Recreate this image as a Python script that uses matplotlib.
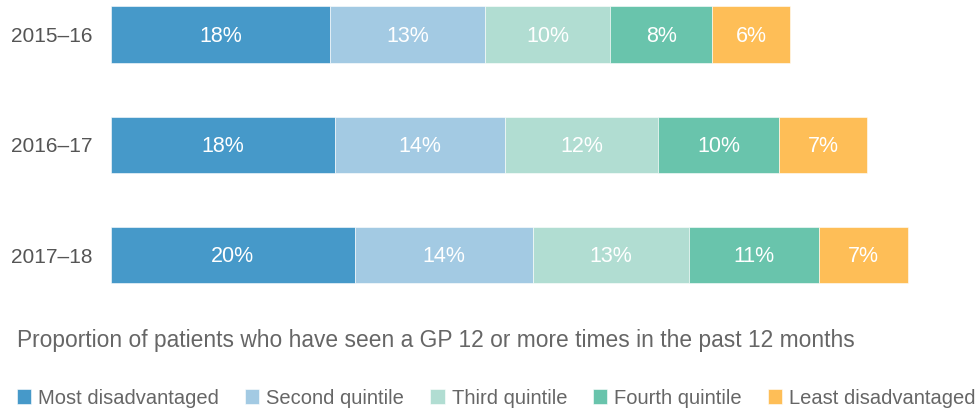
import numpy as np
import matplotlib.pyplot as plt

plt.rcParams['font.family'] = ['Liberation Sans', 'DejaVu Sans']

# data to plot
years = ['2015–16', '2016–17', '2017–18']
groups = ['Most disadvantaged', 'Second quintile', 'Third quintile',
          'Fourth quintile', 'Least disadvantaged']
values = [
    [17.8, 18.2, 19.8],   # Most disadvantaged
    [12.6, 13.8, 14.5],   # Second quintile
    [10.2, 12.5, 12.7],   # Third quintile
    [8.3, 9.8, 10.6],     # Fourth quintile
    [6.3, 7.2, 7.2],      # Least disadvantaged
]
labels = [
    ['18%', '18%', '20%'],
    ['13%', '14%', '14%'],
    ['10%', '12%', '13%'],
    ['8%', '10%', '11%'],
    ['6%', '7%', '7%'],
]
colors = ['#4699C9', '#A3CAE3', '#B1DDD2', '#69C4AC', '#FEBE57']

W, H = 979, 412
fig = plt.figure(figsize=(W / 100, H / 100), dpi=100)
ax = fig.add_axes([111 / W, (H - 290) / H, (W - 111) / W, 290 / H])

ypos = np.arange(len(years))
left = np.zeros(len(years))
handles = []
for vals, labs, col, name in zip(values, labels, colors, groups):
    bars = ax.barh(ypos, vals, left=left, height=0.51, color=col,
                   edgecolor='white', linewidth=0.4, label=name)
    handles.append(bars)
    for b, lab in zip(bars, labs):
        ax.text(b.get_x() + b.get_width() / 2, b.get_y() + b.get_height() / 2 + 0.015,
                lab, ha='center', va='center', color='white', fontsize=15.5)
    left += np.array(vals)

ax.set_xlim(0, (W - 111) / 12.3)
ax.set_ylim((290 - 34.5) / 110.4, -34.5 / 110.4)
ax.set_yticks(ypos)
ax.set_yticklabels(years, fontsize=15, color='#555555')
ax.tick_params(axis='y', length=0, pad=13)
ax.set_xticks([])
for s in ax.spines.values():
    s.set_visible(False)

fig.text(17 / W, 1 - 340 / H, 'Proportion of patients who have seen a GP 12 or more times in the past 12 months',
         fontsize=16.4, color='#666666', va='center', ha='left')

fig.legend(handles=handles, labels=groups, loc='center left',
           bbox_to_anchor=(9 / W, 1 - 398 / H), ncol=5, frameon=False,
           fontsize=14.5, labelcolor='#666666', handlelength=0.7,
           handleheight=0.7, handletextpad=0.35, columnspacing=1.3,
           borderaxespad=0)

plt.savefig('out.png', dpi=100)
